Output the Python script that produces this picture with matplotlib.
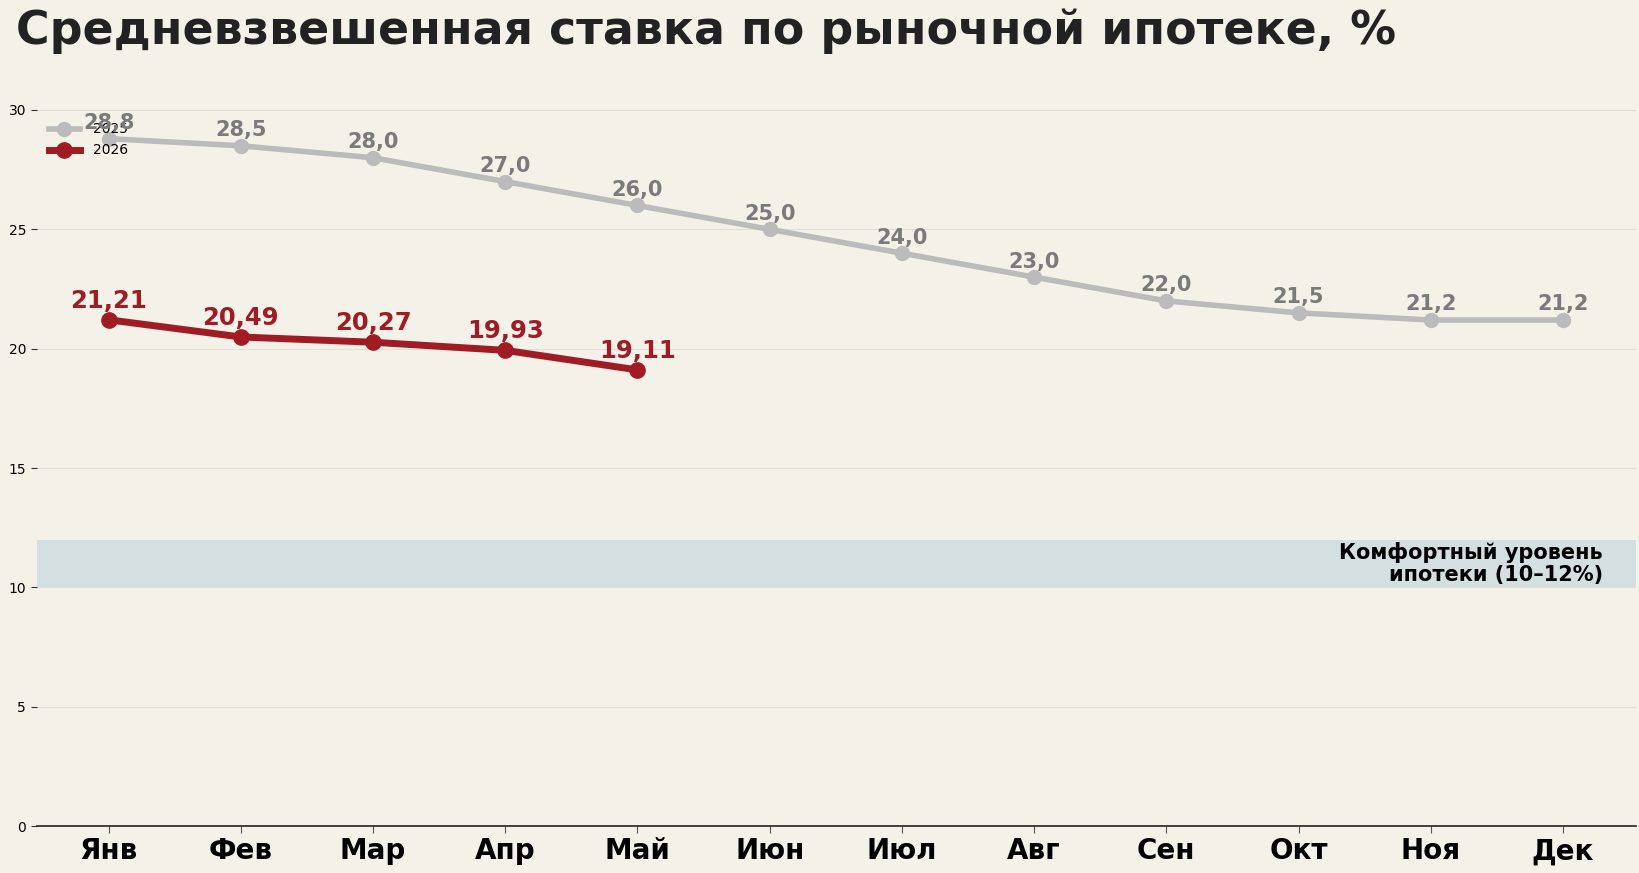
import matplotlib
matplotlib.use("Agg")
import matplotlib.pyplot as plt

months = ["Янв", "Фев", "Мар", "Апр", "Май", "Июн", "Июл", "Авг", "Сен", "Окт", "Ноя", "Дек"]
rate_2025 = [28.8, 28.5, 28.0, 27.0, 26.0, 25.0, 24.0, 23.0, 22.0, 21.5, 21.2, 21.2]
rate_2026 = [21.21, 20.49, 20.27, 19.93, 19.11]
comfort_low, comfort_high = 10, 12
title = "Средневзвешенная ставка по рыночной ипотеке, %"
comfort_label = "Комфортный уровень\nипотеки (10–12%)"

plt.rcParams['font.family'] = ['DejaVu Sans']
bg = "#f4f1e9"
fig = plt.figure(figsize=(16.39, 8.73), dpi=100, facecolor=bg)
ax = fig.add_axes([0.0223, 0.0538, 0.9757, 0.8202])
ax.set_facecolor(bg)

x25 = list(range(len(rate_2025)))
x26 = list(range(len(rate_2026)))

ax.axhspan(comfort_low, comfort_high, color="#d4dfe2", zorder=1, lw=0)
ax.text(11.30, (comfort_low + comfort_high) / 2, comfort_label, ha="right", va="center",
        fontsize=15, fontweight="bold", color="black", zorder=5, linespacing=1.15)

ax.plot(x25, rate_2025, color="#bbbbbb", lw=4, marker="o", ms=10, label="2025", zorder=3)
ax.plot(x26, rate_2026, color="#a01c24", lw=5, marker="o", ms=11, label="2026", zorder=4)

for x, v in zip(x25, rate_2025):
    ax.annotate(f"{v:.1f}".replace(".", ","), (x, v), xytext=(0, 4), textcoords="offset points",
                ha="center", va="bottom", fontsize=15, fontweight="bold", color="#7a7a7a", zorder=6)
for x, v in zip(x26, rate_2026):
    ax.annotate(f"{v:.2f}".replace(".", ","), (x, v), xytext=(0, 5), textcoords="offset points",
                ha="center", va="bottom", fontsize=17.5, fontweight="bold", color="#a01c24", zorder=6)

ax.set_xlim(-0.545, 11.55)
ax.set_ylim(0, 30)
ax.set_xticks(x25)
ax.set_xticklabels(months, fontsize=20, fontweight="bold")
ax.set_yticks([0, 5, 10, 15, 20, 25, 30])
ax.tick_params(axis="y", labelsize=10, length=4, color="#333333")
ax.tick_params(axis="x", length=5, color="#555555", pad=3)
ax.grid(axis="y", color="#e2dfd8", lw=0.8, zorder=0)
ax.set_axisbelow(True)
for s in ["top", "right", "left"]:
    ax.spines[s].set_visible(False)
ax.spines["bottom"].set_color("#222222")
ax.spines["bottom"].set_linewidth(1.2)

ax.legend(loc="upper left", frameon=False, fontsize=10, handlelength=2.2, handletextpad=1.0)

fig.text(0.0098, 0.99, title, ha="left", va="top", fontsize=33, fontweight="bold", color="#222222")

fig.savefig("out.png", dpi=100, facecolor=bg)
